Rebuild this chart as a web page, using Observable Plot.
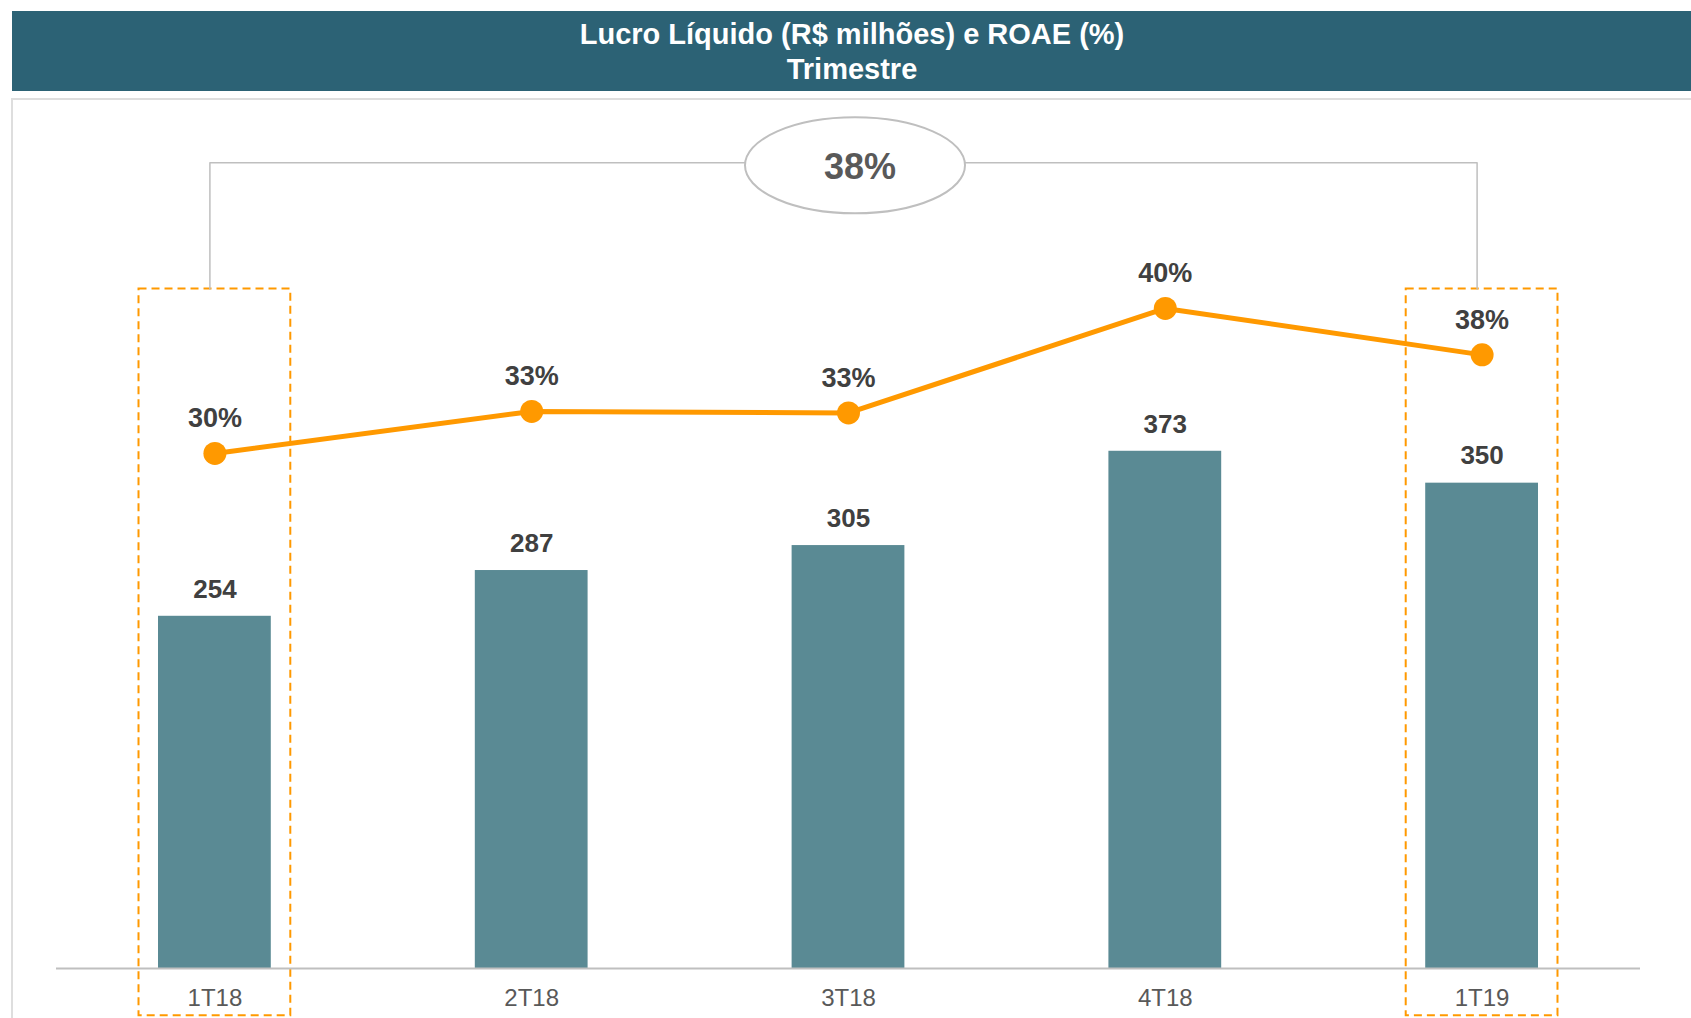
<!DOCTYPE html>
<html>
<head>
<meta charset="utf-8">
<script src="https://cdn.jsdelivr.net/npm/d3@7"></script>
<script src="https://cdn.jsdelivr.net/npm/@observablehq/plot@0.6"></script>
<style>
  html, body { margin: 0; padding: 0; background: #fff; }
  body { width: 1691px; height: 1018px; overflow: hidden; position: relative;
         font-family: "Liberation Sans", Arial, sans-serif; }
  #title { position: absolute; left: 12px; top: 11px; width: 1680px; height: 80px;
           background: #2c6275; color: #fff; font-weight: bold; font-size: 29px;
           line-height: 34.5px; padding-top: 6px; box-sizing: border-box; text-align: center; }
  #frame { position: absolute; left: 11px; top: 98px; width: 1720px; height: 1000px;
           border: 2px solid #dedede; box-sizing: border-box; }
  #chart { position: absolute; left: 0; top: 99px; }
  #chart svg { overflow: visible; }
</style>
</head>
<body>
<div id="title"></div>
<div id="frame"></div>
<div id="chart"></div>
<script>
// ---- data ----
const titleLines = ["Lucro Líquido (R$ milhões) e ROAE (%)", "Trimestre"];
const quarters = ["1T18", "2T18", "3T18", "4T18", "1T19"];
const lucro = [254, 287, 305, 373, 350];            // R$ milhões
const roae = [30.0, 32.9, 32.8, 40.0, 36.8];         // % (position)
const roaeLabels = ["30%", "33%", "33%", "40%", "38%"];
const highlighted = ["1T18", "1T19"];
const periodLabel = "38%";
const periodFrom = "1T18", periodTo = "1T19", periodMid = "3T18";

document.getElementById("title").innerHTML = titleLines.join("<br>");

const table = quarters.map((q, i) => ({q, lucro: lucro[i], roae: roae[i], roaeLabel: roaeLabels[i]}));

// secondary (ROAE) axis mapped into the bar axis units
const roaeToY = d3.scaleLinear().domain([30, 40]).range([371.4, 476.0]);

const boxTop = 490, boxBottom = -34, bracketY = 581;
const bracket = [
  {q: periodFrom, y: boxTop}, {q: periodFrom, y: bracketY},
  {q: periodTo, y: bracketY}, {q: periodTo, y: boxTop}
];

const font = "'Liberation Sans', Arial, sans-serif";

function ellipseMark(index, scales, values, dimensions, context) {
  const x = scales.x(periodMid) + (scales.x.bandwidth ? scales.x.bandwidth() / 2 : 0) + 7;
  const y = scales.y(bracketY) + 3;
  const g = d3.create("svg:g");
  g.append("ellipse").attr("cx", x).attr("cy", y).attr("rx", 110).attr("ry", 48)
    .attr("fill", "#fff").attr("stroke", "#bfbfbf").attr("stroke-width", 2);
  g.append("text").attr("x", x + 5).attr("y", y + 1)
    .attr("text-anchor", "middle").attr("dominant-baseline", "central")
    .attr("font-family", font).attr("font-weight", "bold").attr("font-size", 36)
    .attr("fill", "#595959").text(periodLabel);
  return g.node();
}

const chart = Plot.plot({
  width: 1691,
  height: 919,
  marginTop: 37,
  marginBottom: 50,
  marginLeft: 56,
  marginRight: 51,
  style: {fontFamily: font, background: "transparent", overflow: "visible"},
  x: {domain: quarters, paddingInner: 0.644, paddingOuter: 0.322, round: false, axis: null},
  y: {domain: [0, 600], axis: null},
  marks: [
    Plot.barY(highlighted, {x: d => d, y1: boxBottom, y2: boxTop, fill: "none",
      stroke: "#ff9900", strokeWidth: 2, strokeDasharray: "8,5", insetLeft: -19.5, insetRight: -19.5}),
    Plot.barY(table, {x: "q", y: "lucro", fill: "#5a8a94"}),
    Plot.ruleY([0], {stroke: "#bfbfbf", strokeWidth: 2}),
    Plot.text(table, {x: "q", y: "lucro", text: d => String(d.lucro), dy: -27,
      fontSize: 26, fontWeight: "bold", fill: "#404040"}),
    Plot.line(bracket, {x: "q", y: "y", stroke: "#bfbfbf", strokeWidth: 1.5, dx: -5}),
    ellipseMark,
    Plot.line(table, {x: "q", y: d => roaeToY(d.roae), stroke: "#ff9900", strokeWidth: 5}),
    Plot.dot(table, {x: "q", y: d => roaeToY(d.roae), r: 11.5, fill: "#ff9900"}),
    Plot.text(table, {x: "q", y: d => roaeToY(d.roae), text: "roaeLabel", dy: -35,
      fontSize: 27, fontWeight: "bold", fill: "#404040"}),
    Plot.text(quarters, {x: d => d, frameAnchor: "bottom", dy: 37.5, text: d => d,
      fontSize: 24, fill: "#595959"})
  ]
});
document.getElementById("chart").appendChild(chart);
</script>
</body>
</html>
